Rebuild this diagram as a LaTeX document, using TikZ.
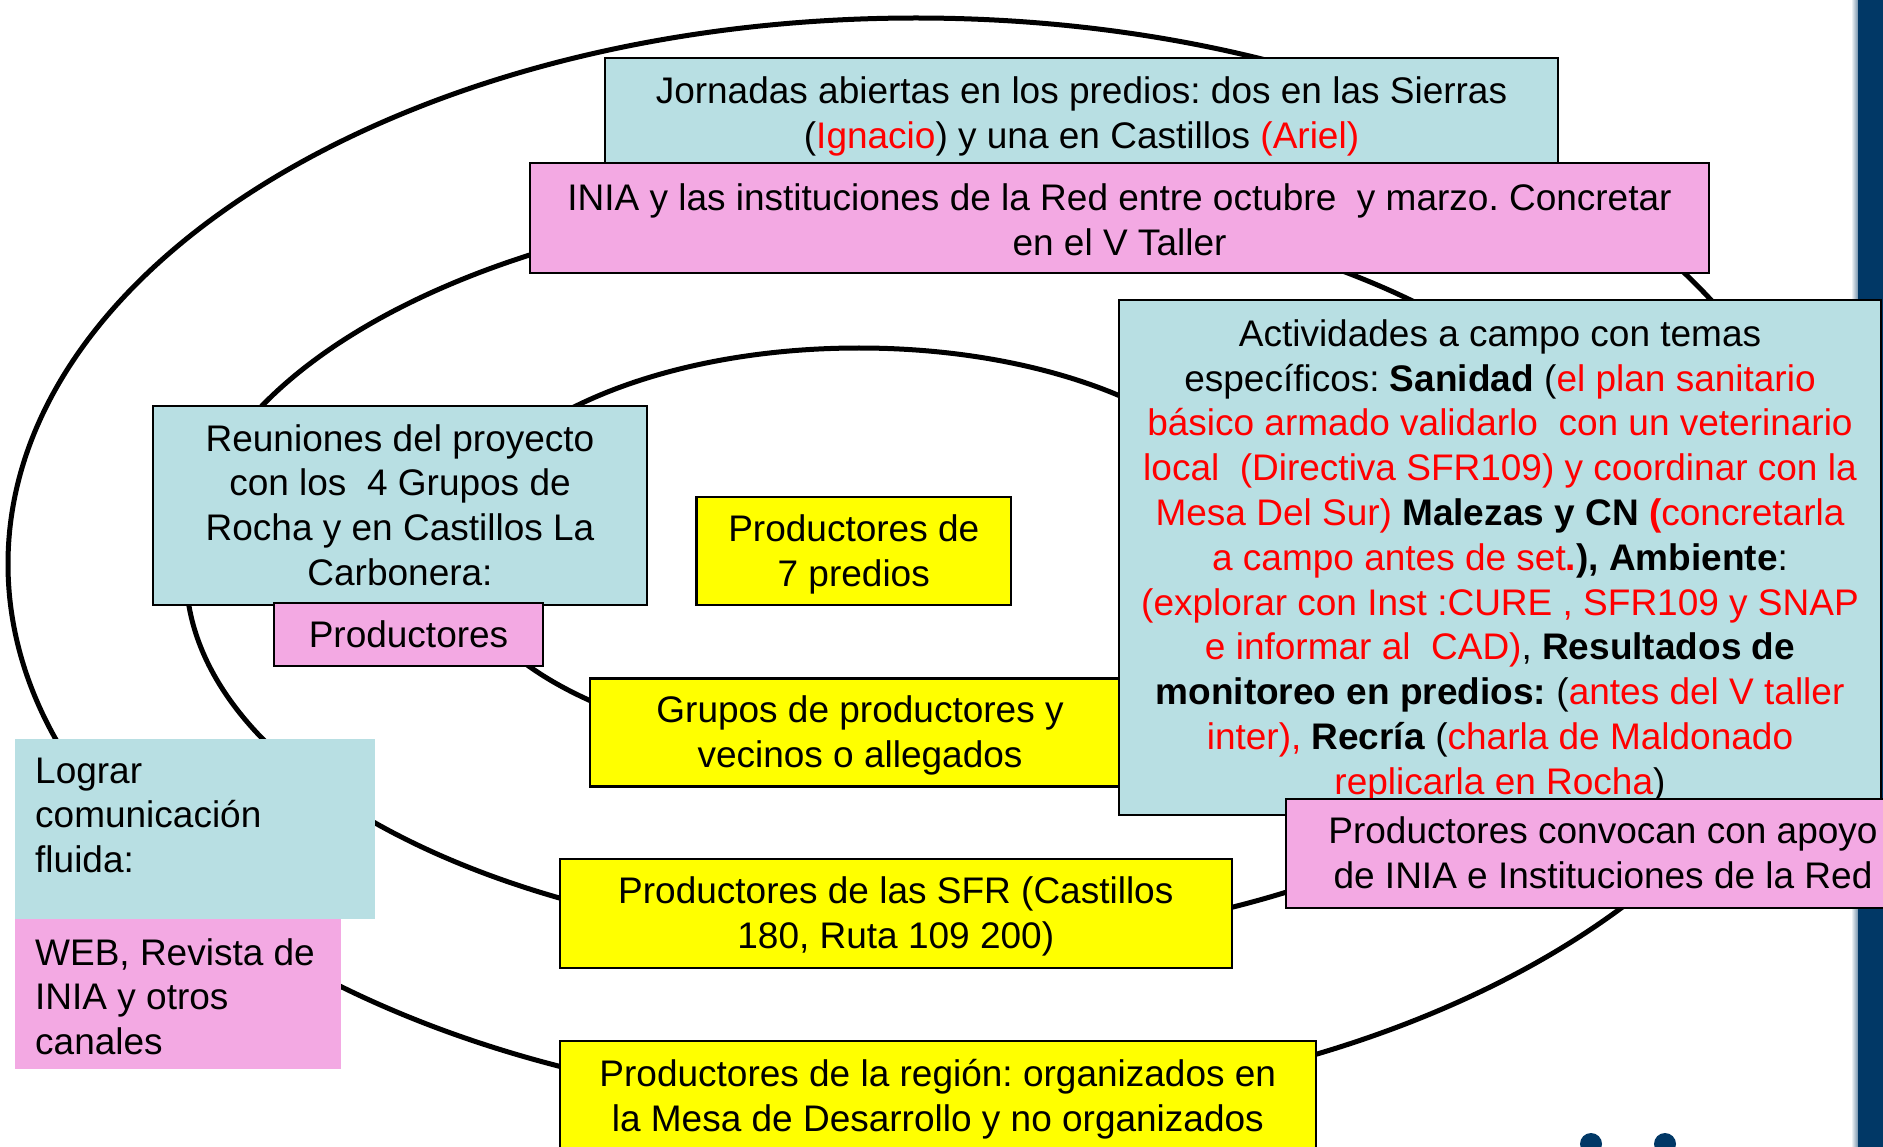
\documentclass[tikz,border=0pt]{standalone}
\usepackage{fontspec}
\setmainfont{Liberation Sans}
\definecolor{cyanc}{RGB}{184,223,227}
\definecolor{pinkc}{RGB}{243,169,227}
\definecolor{yellowc}{RGB}{255,255,0}
\definecolor{redc}{RGB}{255,0,0}
\definecolor{navyc}{RGB}{1,56,102}
\newcommand\redt[1]{\textcolor{redc}{#1}}
\newcommand\topst{\rule{0pt}{33.5pt}}
\newcommand\botst{\rule[-7.8pt]{0pt}{7.8pt}}
\begin{document}
\frenchspacing
\begin{tikzpicture}[x=1pt,y=-1pt,
  every node/.style={font=\fontsize{37}{44.8}\selectfont\frenchspacing},
  boxbase/.style={draw=black, line width=2.2pt, inner sep=0pt, align=center},
  cyanbox/.style={boxbase, fill=cyanc},
  pinkbox/.style={boxbase, fill=pinkc},
  yelbox/.style={boxbase, fill=yellowc},
  ring/.style={draw=black, line width=5pt},
  plaintext/.style={inner sep=0pt, anchor=north west, align=left},
  bgpanel/.style={inner sep=0pt, anchor=north west, draw=none}]
\fill[white] (0,0) rectangle (1883,1147);
\useasboundingbox (0,0) rectangle (1883,1147);
\clip (0,0) rectangle (1883,1147);
% right bar
\shade[left color=white, right color=navyc!55] (1851,0) rectangle (1858,1147);
\fill[navyc] (1858,0) rectangle (1883,1147);
% rings
\draw[ring] (916,564) ellipse [x radius=908pt, y radius=546pt];
\draw[ring] (913,572) ellipse [x radius=727pt, y radius=373pt];
\draw[ring] (859,550) ellipse [x radius=403.5pt, y radius=202pt];
% dots
\fill[navyc] (1591,1144) circle [radius=11pt];
\fill[navyc] (1665,1144) circle [radius=11pt];
% boxes
\node[cyanbox, minimum width=953pt, minimum height=110pt] (jornadas) at (1081.5,113)
  {\topst Jornadas abiertas en los predios: dos en las Sierras\\(\redt{Ignacio}) y una en Castillos \redt{(Ariel)}\botst};
\node[pinkbox, minimum width=1179pt, minimum height=110pt] (inia) at (1119.5,218)
  {\rule{0pt}{38.3pt}INIA y las instituciones de la Red entre octubre~ y marzo. Concretar\\en el V Taller\botst};
\node[cyanbox, minimum width=494.5pt, minimum height=199pt] (reuniones) at (400,505.5)
  {\topst Reuniones del proyecto\\con los~ 4 Grupos de\\Rocha y en Castillos La\\Carbonera:\botst};
\node[pinkbox, minimum width=269pt, minimum height=63pt] (prodsmall) at (408.5,634.5) {\topst Productores\botst};
\node[yelbox, minimum width=314.5pt, minimum height=108pt] (siete) at (853.75,551) {\topst Productores de\\7 predios\botst};
\node[yelbox, minimum width=540pt, minimum height=108pt] (grupos) at (860,732.5) {\topst Grupos de productores y\\vecinos o allegados\botst};
\node[cyanbox, minimum width=762pt, minimum height=515pt] (activ) at (1500,557.5)
  {\topst Actividades a campo con temas\\
   específicos: \textbf{Sanidad} (\redt{el plan sanitario}\\
   \redt{básico armado validarlo~ con un veterinario}\\
   \redt{local~ (Directiva SFR109) y coordinar con la}\\
   \redt{Mesa Del Sur)} \textbf{Malezas y CN \redt{(}}\redt{concretarla}\\
   \redt{a campo antes de set\textbf{.}}\textbf{), Ambiente}:\\
   \redt{(explorar con Inst :CURE , SFR109 y SNAP}\\
   \redt{e informar al~ CAD)}, \textbf{Resultados de}\\
   \textbf{monitoreo en predios:} (\redt{antes del V taller}\\
   \redt{inter),} \textbf{Recría} (\redt{charla de Maldonado}\\
   \redt{replicarla en Rocha})\botst};
\node[pinkbox, minimum width=634pt, minimum height=109.4pt] (convocan) at (1603,853.3)
  {\topst Productores convocan con apoyo\\de INIA e Instituciones de la Red\botst};
\node[yelbox, minimum width=672.4pt, minimum height=109.4pt] (sfr) at (895.8,913.3)
  {\topst Productores de las SFR (Castillos\\180, Ruta 109 200)\botst};
\node[yelbox, minimum width=756.4pt, minimum height=111pt] (region) at (937.8,1096.5)
  {\topst Productores de la región: organizados en\\la Mesa de Desarrollo y no organizados\botst};
% left panels
\node[bgpanel, fill=cyanc, minimum width=360.3pt, minimum height=180.2pt] (lograrbg) at (14.4,738.5) {};
\node[plaintext] (lograr) at (35,757.5) {Lograr\\comunicación\\fluida:};
\node[bgpanel, fill=pinkc, minimum width=326.6pt, minimum height=150.3pt] (webbg) at (14.4,918.7) {};
\node[plaintext] (web) at (35,938) {WEB, Revista de\\INIA y otros\\canales};
\end{tikzpicture}
\end{document}
